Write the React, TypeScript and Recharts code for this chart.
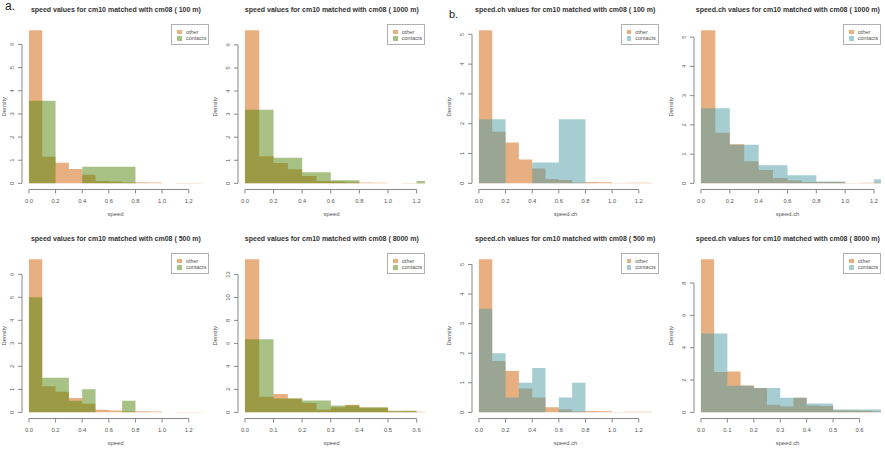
import { Area, ComposedChart, Legend, ReferenceLine, XAxis, YAxis } from "recharts";

// Bin edges: 0.1-wide bins for the short-range panels, 0.05-wide for 8000 m
const edgesWide = [0, 0.1, 0.2, 0.3, 0.4, 0.5, 0.6, 0.7, 0.8, 0.9, 1.0, 1.1, 1.2, 1.3];
const edgesFine = [0, 0.05, 0.1, 0.15, 0.2, 0.25, 0.3, 0.35, 0.4, 0.45, 0.5, 0.55, 0.6, 0.65, 0.7];

const ticksWide = [0, 0.2, 0.4, 0.6, 0.8, 1.0, 1.2];
const ticksFine = [0, 0.1, 0.2, 0.3, 0.4, 0.5, 0.6];

// Density per bin, speed
const speed100Other = [6.62, 1.15, 0.89, 0.62, 0.37, 0.1, 0.08, 0.04, 0.05, 0.04, 0.01, 0.02, 0.02];
const speed100Contacts = [3.57, 3.57, 0, 0, 0.72, 0.72, 0.72, 0.72, 0, 0, 0, 0, 0];
const speed1000Other = [6.64, 1.17, 0.88, 0.61, 0.32, 0.1, 0.08, 0.05, 0.04, 0.03, 0.01, 0.02, 0.02];
const speed1000Contacts = [3.19, 3.19, 1.11, 1.11, 0.48, 0.48, 0.13, 0.13, 0.01, 0.01, 0, 0, 0.1];
const speed500Other = [6.66, 1.13, 0.9, 0.62, 0.38, 0.11, 0.08, 0.04, 0.05, 0.04, 0.01, 0.02, 0.02];
const speed500Contacts = [5.0, 1.5, 1.5, 0.5, 1.0, 0, 0, 0.5, 0, 0, 0, 0, 0];
const speed8000Other = [13.33, 1.36, 1.59, 1.21, 0.81, 0.23, 0.45, 0.66, 0.43, 0.43, 0.08, 0.1, 0.05];
const speed8000Contacts = [6.37, 6.37, 1.2, 1.2, 1.04, 1.04, 0.6, 0.6, 0.43, 0.43, 0.15, 0.15, 0];

// Density per bin, speed.ch
const speedCh100Other = [5.14, 1.73, 1.37, 0.8, 0.5, 0.15, 0.11, 0.03, 0.05, 0.04, 0.01, 0.02, 0.02];
const speedCh100Contacts = [2.15, 2.15, 0, 0, 0.7, 0.7, 2.15, 2.15, 0, 0, 0, 0, 0];
const speedCh1000Other = [5.24, 1.73, 1.34, 0.76, 0.46, 0.18, 0.1, 0.05, 0.05, 0.05, 0.01, 0.02, 0.02];
const speedCh1000Contacts = [2.57, 2.57, 1.32, 1.32, 0.62, 0.62, 0.28, 0.28, 0.06, 0.06, 0, 0, 0.14];
const speedCh500Other = [5.18, 1.74, 1.4, 0.81, 0.5, 0.17, 0.1, 0.03, 0.05, 0.04, 0.01, 0.02, 0.02];
const speedCh500Contacts = [3.5, 2.0, 0.5, 1.0, 1.5, 0, 0.5, 1.0, 0, 0, 0, 0, 0];
const speedCh8000Other = [9.48, 2.49, 2.53, 1.66, 1.5, 0.47, 0.36, 0.9, 0.42, 0.4, 0.12, 0.12, 0.1, 0.05];
const speedCh8000Contacts = [4.88, 4.88, 1.65, 1.65, 1.5, 1.5, 0.9, 0.9, 0.55, 0.55, 0.17, 0.17, 0.17, 0.17];

const FONT = "'Liberation Sans', Arial, Helvetica, sans-serif";
const OTHER_FILL = "rgba(213, 111, 24, 0.55)";
const GREEN_FILL = "rgba(81, 131, 9, 0.5)";
const BLUE_FILL = "rgba(75, 155, 165, 0.5)";

const PLOT_W = 187;
const PLOT_H = 165.5;
const Y_AXIS_W = 46;
const X_AXIS_H = 48;
const TOP_PAD = 24;
const LEFT_PAD = 4;

interface Panel {
  title: string;
  xLabel: string;
  edges: number[];
  other: number[];
  contacts: number[];
  contactsFill: string;
  xMax: number;
  xTicks: number[];
  yTicks: number[];
  left: number;
  top: number;
}

const panels: Panel[] = [
  { title: "speed values for cm10 matched with cm08 ( 100 m)", xLabel: "speed", edges: edgesWide, other: speed100Other, contacts: speed100Contacts, contactsFill: GREEN_FILL, xMax: 1.3, xTicks: ticksWide, yTicks: [0, 1, 2, 3, 4, 5, 6], left: 22.4, top: 24 },
  { title: "speed values for cm10 matched with cm08 ( 1000 m)", xLabel: "speed", edges: edgesWide, other: speed1000Other, contacts: speed1000Contacts, contactsFill: GREEN_FILL, xMax: 1.21, xTicks: ticksWide, yTicks: [0, 1, 2, 3, 4, 5, 6], left: 238.3, top: 24 },
  { title: "speed.ch values for cm10 matched with cm08 ( 100 m)", xLabel: "speed.ch", edges: edgesWide, other: speedCh100Other, contacts: speedCh100Contacts, contactsFill: BLUE_FILL, xMax: 1.3, xTicks: ticksWide, yTicks: [0, 1, 2, 3, 4, 5], left: 471.7, top: 24 },
  { title: "speed.ch values for cm10 matched with cm08 ( 1000 m)", xLabel: "speed.ch", edges: edgesWide, other: speedCh1000Other, contacts: speedCh1000Contacts, contactsFill: BLUE_FILL, xMax: 1.2, xTicks: ticksWide, yTicks: [0, 1, 2, 3, 4, 5], left: 694.3, top: 24 },
  { title: "speed values for cm10 matched with cm08 ( 500 m)", xLabel: "speed", edges: edgesWide, other: speed500Other, contacts: speed500Contacts, contactsFill: GREEN_FILL, xMax: 1.3, xTicks: ticksWide, yTicks: [0, 1, 2, 3, 4, 5, 6], left: 22.4, top: 253 },
  { title: "speed values for cm10 matched with cm08 ( 8000 m)", xLabel: "speed", edges: edgesFine, other: speed8000Other, contacts: speed8000Contacts, contactsFill: GREEN_FILL, xMax: 0.605, xTicks: ticksFine, yTicks: [0, 2, 4, 6, 8, 10, 12], left: 238.3, top: 253 },
  { title: "speed.ch values for cm10 matched with cm08 ( 500 m)", xLabel: "speed.ch", edges: edgesWide, other: speedCh500Other, contacts: speedCh500Contacts, contactsFill: BLUE_FILL, xMax: 1.3, xTicks: ticksWide, yTicks: [0, 1, 2, 3, 4, 5], left: 471.7, top: 253 },
  { title: "speed.ch values for cm10 matched with cm08 ( 8000 m)", xLabel: "speed.ch", edges: edgesFine, other: speedCh8000Other, contacts: speedCh8000Contacts, contactsFill: BLUE_FILL, xMax: 0.655, xTicks: ticksFine, yTicks: [0, 2, 4, 6, 8], left: 694.3, top: 253 },
];

// R-style axis labels on the y axis run parallel to the axis
function RotatedTick(props: any) {
  const { x, y, payload } = props;
  return (
    <text x={x} y={y} transform={`rotate(-90 ${x} ${y})`} textAnchor="middle" fontSize={5.8} fill="#555" fontFamily={FONT}>
      {payload.value}
    </text>
  );
}

function HistLegend(props: any) {
  const payload: any[] = props.payload ?? [];
  const items = ["other", "contacts"]
    .map((name) => payload.find((p) => p.value === name))
    .filter(Boolean);
  return (
    <div
      style={{
        width: 38,
        height: 21,
        boxSizing: "border-box",
        border: "1px solid #b0b0b0",
        background: "#fff",
        padding: "3.5px 0 0 5px",
        fontFamily: FONT,
        fontSize: 5.5,
        lineHeight: "6.6px",
        color: "#555",
      }}
    >
      {items.map((item) => (
        <div key={item.value} style={{ display: "flex", alignItems: "center", whiteSpace: "nowrap" }}>
          <span style={{ display: "inline-block", width: 4.5, height: 4.5, background: item.color, marginRight: 4 }} />
          {item.value}
        </div>
      ))}
    </div>
  );
}

function HistPanel({ panel }: { panel: Panel }) {
  const data = panel.edges.map((x, i) => ({
    x,
    other: panel.other[i] ?? 0,
    contacts: panel.contacts[i] ?? 0,
  }));
  const yMax = Math.max(...panel.other, ...panel.contacts);
  const yDomain = [-0.04 * yMax, 1.04 * yMax];
  const xDomain = [-0.04 * panel.xMax, 1.04 * panel.xMax];
  const chartW = LEFT_PAD + Y_AXIS_W + PLOT_W + 6;
  const chartH = TOP_PAD + PLOT_H + X_AXIS_H;
  const plotLeft = LEFT_PAD + Y_AXIS_W;
  // keep the "Density" label inside the page for the leftmost column
  const densityX = panel.left - Y_AXIS_W / 2;
  const densityDx = densityX < 4 ? 4 - densityX : 0;

  return (
    <div style={{ position: "absolute", left: panel.left - plotLeft, top: panel.top - TOP_PAD, width: chartW, height: chartH }}>
      <div
        style={{
          position: "absolute",
          left: plotLeft,
          top: 6.3,
          width: PLOT_W,
          textAlign: "center",
          fontFamily: FONT,
          fontWeight: "bold",
          fontSize: 7,
          lineHeight: "8px",
          whiteSpace: "nowrap",
          color: "#333",
        }}
      >
        {panel.title}
      </div>
      <ComposedChart width={chartW} height={chartH} data={data} margin={{ top: TOP_PAD, right: 6, bottom: 0, left: LEFT_PAD }}>
        <XAxis
          dataKey="x"
          type="number"
          domain={xDomain}
          allowDataOverflow
          ticks={panel.xTicks}
          interval={0}
          tickFormatter={(v: number) => v.toFixed(1)}
          axisLine={false}
          tickSize={4}
          tickMargin={5}
          tickLine={{ stroke: "#888" }}
          tick={{ fontSize: 5.8, fill: "#555", fontFamily: FONT }}
          height={X_AXIS_H}
          label={{ value: panel.xLabel, position: "center", fontSize: 5.8, fill: "#555", fontFamily: FONT }}
        />
        <YAxis
          type="number"
          domain={yDomain}
          allowDataOverflow
          ticks={panel.yTicks}
          interval={0}
          axisLine={false}
          tickSize={4}
          tickMargin={4}
          tickLine={{ stroke: "#888" }}
          tick={RotatedTick}
          width={Y_AXIS_W}
          label={{ value: "Density", angle: -90, position: "center", dx: densityDx, fontSize: 5.8, fill: "#555", fontFamily: FONT }}
        />
        <Area
          type="stepAfter"
          dataKey="other"
          name="other"
          fill={OTHER_FILL}
          fillOpacity={1}
          stroke="none"
          baseValue={0}
          isAnimationActive={false}
        />
        <Area
          type="stepAfter"
          dataKey="contacts"
          name="contacts"
          fill={panel.contactsFill}
          fillOpacity={1}
          stroke="none"
          baseValue={0}
          isAnimationActive={false}
        />
        <ReferenceLine
          segment={[
            { x: panel.xTicks[0], y: yDomain[0] },
            { x: panel.xTicks[panel.xTicks.length - 1], y: yDomain[0] },
          ]}
          stroke="#888"
          ifOverflow="visible"
        />
        <ReferenceLine
          segment={[
            { x: xDomain[0], y: panel.yTicks[0] },
            { x: xDomain[0], y: panel.yTicks[panel.yTicks.length - 1] },
          ]}
          stroke="#888"
          ifOverflow="visible"
        />
        <Legend
          layout="vertical"
          align="center"
          verticalAlign="middle"
          content={(props: any) => <HistLegend {...props} />}
          wrapperStyle={{ left: plotLeft + PLOT_W - 38, top: TOP_PAD, width: 38, height: 21 }}
        />
      </ComposedChart>
    </div>
  );
}

export default function App() {
  return (
    <div style={{ position: "absolute", left: 0, top: 0, width: 885, height: 450, overflow: "hidden", background: "#fff" }}>
      {panels.map((p) => (
        <HistPanel key={p.title} panel={p} />
      ))}
      <div style={{ position: "absolute", left: 5, top: -1, fontFamily: FONT, fontSize: 12, color: "#222" }}>a.</div>
      <div style={{ position: "absolute", left: 449, top: 8, fontFamily: FONT, fontSize: 11, color: "#222" }}>b.</div>
    </div>
  );
}
